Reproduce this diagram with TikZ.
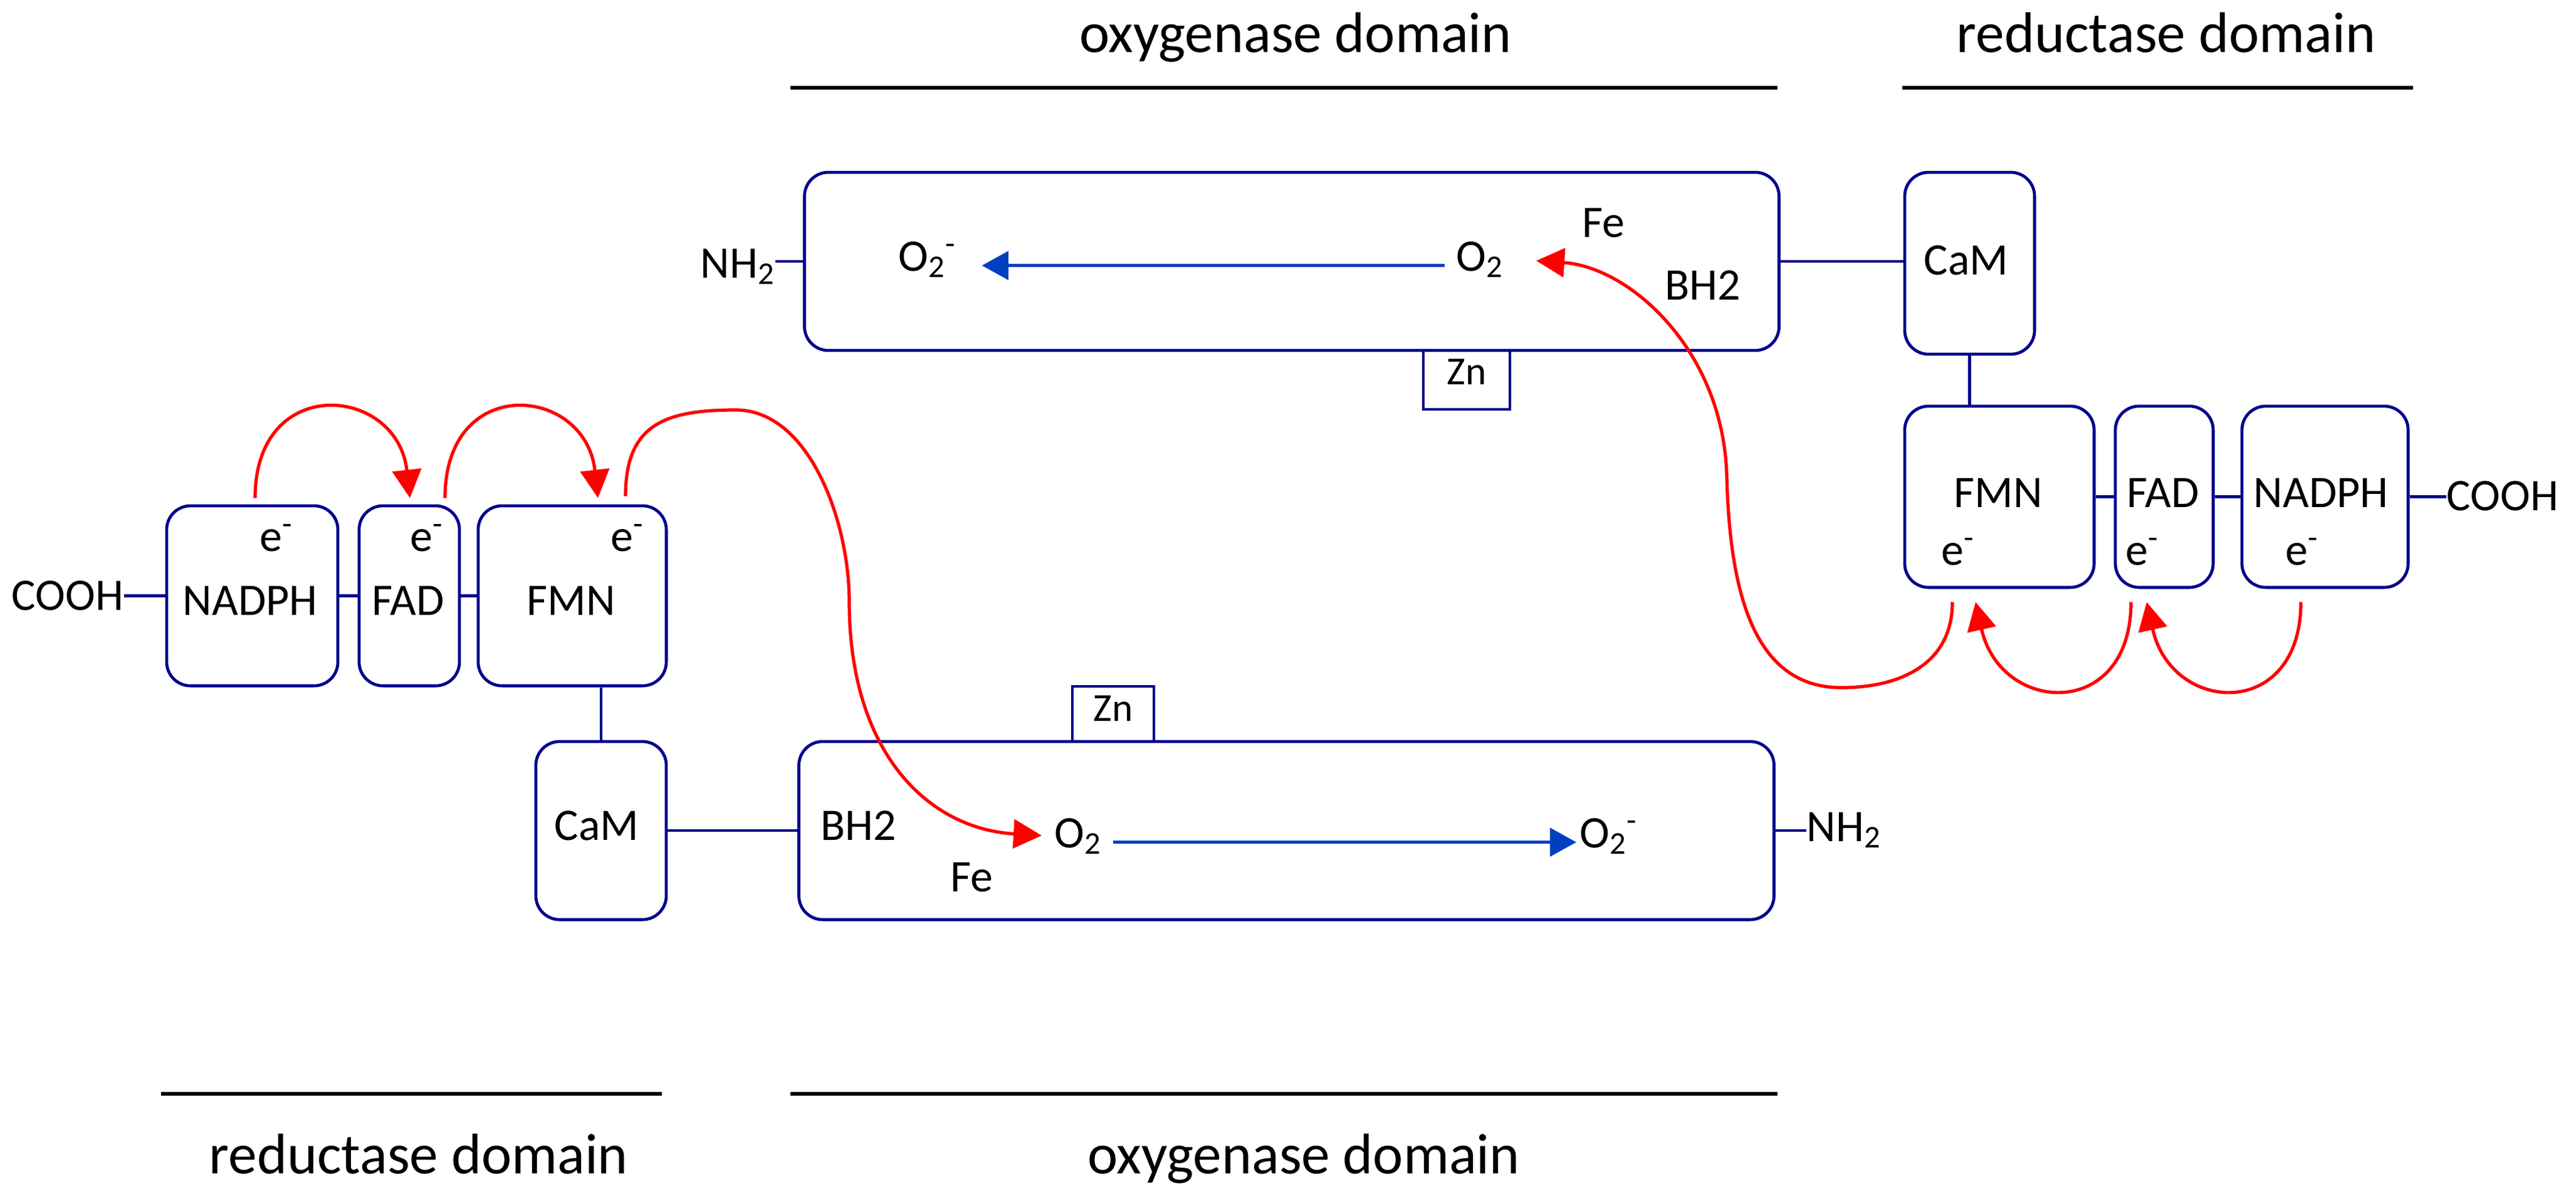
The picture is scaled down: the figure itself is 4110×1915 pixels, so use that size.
\documentclass[tikz,border=0pt]{standalone}
\usepackage{fontspec}
\setmainfont{Carlito}
\usetikzlibrary{arrows.meta,calc}
\definecolor{navy}{RGB}{0,0,140}
\definecolor{arrblue}{RGB}{0,64,192}
\definecolor{ered}{RGB}{255,0,0}
\tikzset{
  box/.style={draw=navy, line width=0.048cm, rounded corners=0.38cm, inner sep=0pt},
  znbox/.style={draw=navy, line width=0.048cm, inner sep=0pt},
  lbl/.style={inner sep=0pt, anchor=base west, font=\fontsize{20.5}{24}\selectfont},
  znlbl/.style={inner sep=0pt, anchor=base, font=\fontsize{18}{21}\selectfont},
  dom/.style={inner sep=0pt, anchor=base, font=\fontsize{26}{30}\selectfont},
  domline/.style={line width=0.06cm, draw=black},
  link/.style={draw=navy, line width=0.048cm},
  barrow/.style={draw=arrblue, line width=0.055cm, -{Triangle[length=0.42cm,width=0.45cm]}},
  rarrow/.style={draw=ered, line width=0.052cm, -{Triangle[length=0.45cm,width=0.46cm]}},
}
\begin{document}
\begin{tikzpicture}[x=0.01cm, y=-0.01cm]
\fill[white] (0,0) rectangle (4110,1915);
\useasboundingbox (0,0) rectangle (4110,1915);

% domain labels and lines
\node[dom] (tOxyLbl) at (2067,83) {oxygenase domain};
\node[dom] (tRedLbl) at (3456,83) {reductase domain};
\draw[domline] (1261,140) -- (2836,140);
\draw[domline] (3035,140) -- (3850,140);
\node[dom] (bRedLbl) at (668,1872) {reductase domain};
\node[dom] (bOxyLbl) at (2080,1872) {oxygenase domain};
\draw[domline] (257,1745) -- (1056,1745);
\draw[domline] (1261,1745) -- (2836,1745);

% boxes
\node[box, minimum width=2.73cm, minimum height=2.87cm] (lNADPH) at (402.5,950.5) {};
\node[box, minimum width=1.60cm, minimum height=2.87cm] (lFAD) at (653,950.5) {};
\node[box, minimum width=3.00cm, minimum height=2.87cm] (lFMN) at (913,950.5) {};
\node[box, minimum width=2.08cm, minimum height=2.84cm] (lCaM) at (959,1325) {};
\node[box, minimum width=15.55cm, minimum height=2.84cm] (bOxy) at (2052.5,1325) {};
\node[znbox, minimum width=1.30cm, minimum height=0.88cm] (bZn) at (1776,1139) {};
\node[box, minimum width=15.54cm, minimum height=2.84cm] (tOxy) at (2061,417) {};
\node[znbox, minimum width=1.38cm, minimum height=0.94cm] (tZn) at (2340,606) {};
\node[box, minimum width=2.07cm, minimum height=2.90cm] (rCaM) at (3142.5,420) {};
\node[box, minimum width=3.02cm, minimum height=2.89cm] (rFMN) at (3190,792.5) {};
\node[box, minimum width=1.56cm, minimum height=2.89cm] (rFAD) at (3453,792.5) {};
\node[box, minimum width=2.65cm, minimum height=2.89cm] (rNADPH) at (3709.5,792.5) {};

% left texts
\node[lbl] (lCOOH) at (18,973) {COOH};
\node[lbl] (lNADPHt) at (291,981) {NADPH};
\node[lbl] (lFADt) at (593,981) {FAD};
\node[lbl] (lFMNt) at (840,981) {FMN};
\node[lbl] (le1) at (414,879) {e\textsuperscript{-}};
\node[lbl] (le2) at (654,879) {e\textsuperscript{-}};
\node[lbl] (le3) at (974,879) {e\textsuperscript{-}};
\node[lbl] (lCaMt) at (884,1340) {CaM};

% bottom oxygenase texts
\node[lbl] (bBH2) at (1309,1340) {BH2};
\node[lbl] (bFe) at (1516,1422) {Fe};
\node[lbl] (bO2) at (1682,1352) {O\textsubscript{2}};
\node[lbl] (bO2m) at (2520,1352) {O\textsubscript{2}\textsuperscript{-}};
\node[lbl] (bNH2) at (2882,1342) {NH\textsubscript{2}};
\node[znlbl] (bZnt) at (1776,1150) {Zn};

% top oxygenase texts
\node[lbl] (tNH2) at (1117,443) {NH\textsubscript{2}};
\node[lbl] (tO2m) at (1433,432) {O\textsubscript{2}\textsuperscript{-}};
\node[lbl] (tO2) at (2323,432) {O\textsubscript{2}};
\node[lbl] (tFe) at (2524,378) {Fe};
\node[lbl] (tBH2) at (2656,478) {BH2};
\node[znlbl] (tZnt) at (2340,613) {Zn};

% right texts
\node[lbl] (rCaMt) at (3069,438) {CaM};
\node[lbl] (rFMNt) at (3117,809) {FMN};
\node[lbl] (rFADt) at (3393,809) {FAD};
\node[lbl] (rNADPHt) at (3595,809) {NADPH};
\node[lbl] (rCOOH) at (3903,814) {COOH};
\node[lbl] (re1) at (3097,901) {e\textsuperscript{-}};
\node[lbl] (re2) at (3391,901) {e\textsuperscript{-}};
\node[lbl] (re3) at (3646,901) {e\textsuperscript{-}};

% links
\draw[link] (lCOOH.east |- lNADPH.west) -- (lNADPH.west);
\draw[link] (lNADPH.east) -- (lFAD.west);
\draw[link] (lFAD.east) -- (lFMN.west);
\draw[link] (lCaM.north |- lFMN.south) -- (lCaM.north);
\draw[link] (lCaM.east) -- (bOxy.west);
\draw[link] (bOxy.east) -- (bOxy.east -| bNH2.west);
\draw[link] (tNH2.east |- tOxy.west) -- (tOxy.west);
\draw[link] (tOxy.east) -- (tOxy.east -| rCaM.west);
\draw[link] (rCaM.south) -- (rCaM.south |- rFMN.north);
\draw[link] (rFMN.east) -- (rFAD.west);
\draw[link] (rFAD.east) -- (rNADPH.west);
\draw[link] (rNADPH.east) -- (rNADPH.east -| rCOOH.west);

% blue arrows
\draw[barrow, shorten <=0.18cm, shorten >=0.4cm] (tO2.mid west) -- (tO2m.mid east);
\draw[barrow, shorten <=0.17cm, shorten >=0.05cm] (bO2.mid east) -- (bO2m.mid west);

% red electron arrows
\coordinate (w1) at (1174,654);
\coordinate (w2) at (1355,960);
\coordinate (tipB) at (1662,1333);
\coordinate (w3) at (2938,1097);
\coordinate (w4) at (2755,760);
\coordinate (tipT) at (2451,416);

\draw[rarrow] ($(lNADPH.north)+(4.5,-10)$) .. controls +(0,-200) and +(-20,-180) .. ($(lFAD.north)+(1,-10)$);
\draw[rarrow] ($(lFAD.north)+(57,-10)$) .. controls +(0,-200) and +(-20,-180) .. ($(lFMN.north)+(41,-10)$);
\draw[rarrow] ($(lFMN.north)+(85,-13)$) .. controls +(0,-114) and +(-114,0) .. (w1)
   .. controls +(116,0) and +(0,-130) .. (w2)
   .. controls +(0,240) and +(-182,-11) .. (tipB);

\draw[rarrow] ($(rNADPH.south)+(-38.5,21)$) .. controls +(0,190) and +(40,180) .. ($(rFAD.south)+(-28,21)$);
\draw[rarrow] ($(rFAD.south)+(-53,21)$) .. controls +(0,190) and +(40,180) .. ($(rFMN.south)+(-38,21)$);
\draw[rarrow] ($(rFMN.south)+(-75,21)$) .. controls +(0,100) and +(92,0) .. (w3)
   .. controls +(-138,0) and +(5,190) .. (w4)
   .. controls +(-5,-200) and +(150,10) .. (tipT);
\end{tikzpicture}
\end{document}
